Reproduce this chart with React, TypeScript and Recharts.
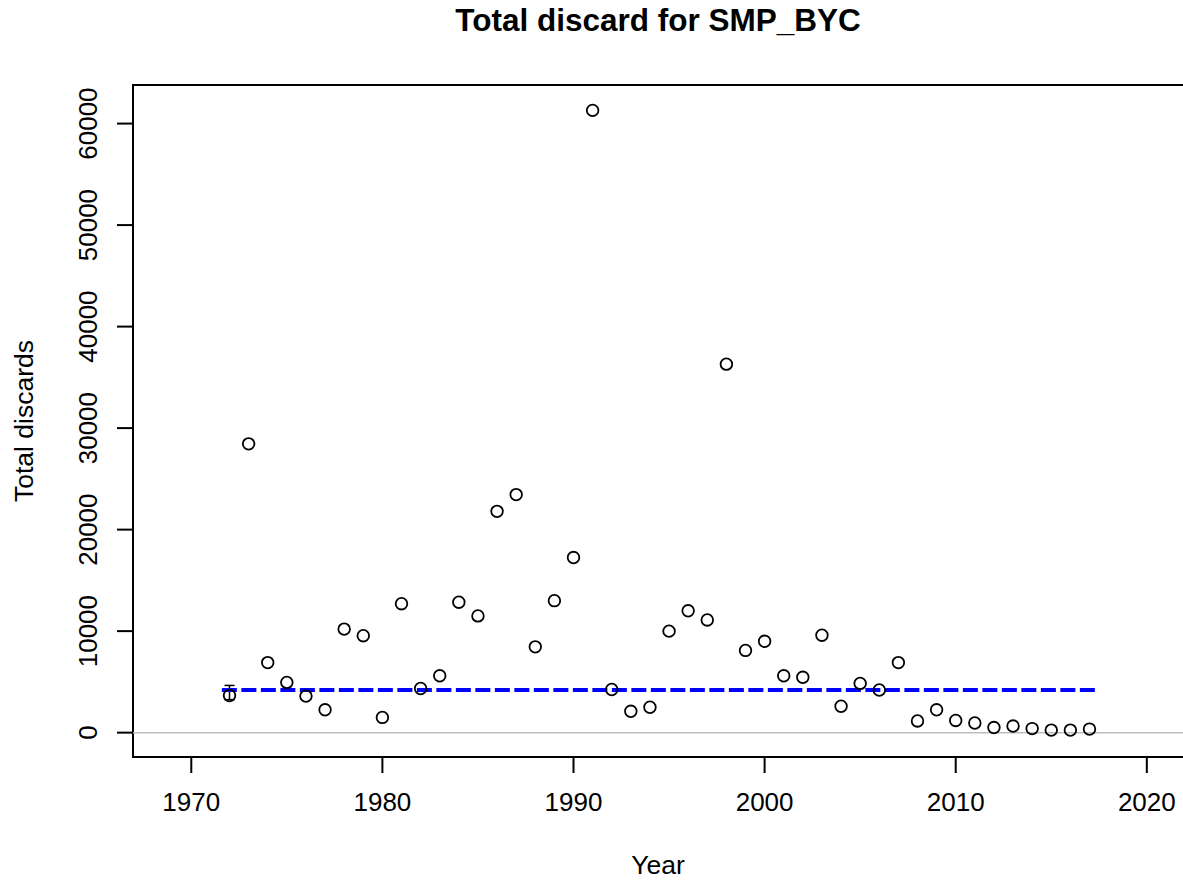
import React from 'react';
import {
  ScatterChart,
  Scatter,
  XAxis,
  YAxis,
  ErrorBar,
  ReferenceLine,
  ReferenceArea
} from 'recharts';

// discard estimates per year
const years = [
  1972, 1973, 1974, 1975, 1976, 1977, 1978, 1979, 1980, 1981,
  1982, 1983, 1984, 1985, 1986, 1987, 1988, 1989, 1990, 1991,
  1992, 1993, 1994, 1995, 1996, 1997, 1998, 1999, 2000, 2001,
  2002, 2003, 2004, 2005, 2006, 2007, 2008, 2009, 2010, 2011,
  2012, 2013, 2014, 2015, 2016, 2017
];
const discards = [
  3650, 28450, 6900, 4950, 3600, 2250, 10200, 9550, 1500, 12700,
  4350, 5600, 12850, 11500, 21800, 23450, 8450, 13000, 17250, 61300,
  4250, 2100, 2500, 10000, 12000, 11100, 36300, 8100, 9000, 5600,
  5450, 9600, 2600, 4850, 4200, 6900, 1150, 2250, 1200, 950,
  500, 650, 400, 250, 250, 350
];

// only the first year carries an interval
const errYear = 1972;
const errLowHigh = [400, 1000];

// mean discard, dashed blue
const meanYears = [1971.6, 2017.4];
const meanValue = 4200;

const xTicks = [1970, 1980, 1990, 2000, 2010, 2020];
const yTicks = [0, 10000, 20000, 30000, 40000, 50000, 60000];
const xDomain = [1966.95, 2022.05];
const yDomain = [-2400, 63800];

const FONT = '"Liberation Sans", Arial, sans-serif';
const TICK_SIZE = 26;
const LABEL_SIZE = 26.5;

const points = years.map((y, i) => ({ year: y, discard: discards[i] }));
const errPoint = [{ year: errYear, discard: discards[years.indexOf(errYear)], err: errLowHigh }];
const meanLine = meanYears.map(y => ({ year: y, discard: meanValue }));

const OpenCircle = (props: any) => (
  <circle cx={props.cx} cy={props.cy} r={5.8} fill="none" stroke="#000" strokeWidth={1.8} />
);

const XTick = ({ x, y, payload }: any) => (
  <text x={x} y={y} dy={TICK_SIZE * 0.716 + 19} textAnchor="middle" fontSize={TICK_SIZE} fontFamily={FONT} fill="#000">
    {payload.value}
  </text>
);

const YTick = ({ x, y, payload }: any) => (
  <text transform={`translate(${x - 20},${y}) rotate(-90)`} textAnchor="middle" fontSize={TICK_SIZE} fontFamily={FONT} fill="#000">
    {payload.value}
  </text>
);

const App: React.FC = () => {
  return (
    <div style={{ position: 'absolute', left: 0, top: 0, width: 1183, height: 884, overflow: 'hidden', background: '#fff' }}>
      <div
        style={{
          position: 'absolute',
          left: 133,
          top: 5,
          width: 1050,
          textAlign: 'center',
          fontFamily: FONT,
          fontWeight: 'bold',
          fontSize: 31.5,
          lineHeight: '31.5px'
        }}
      >
        Total discard for SMP_BYC
      </div>
      <ScatterChart width={1186} height={884} margin={{ top: 85, right: 0, bottom: 0, left: 0 }}>
        <XAxis
          type="number"
          dataKey="year"
          domain={xDomain}
          ticks={xTicks}
          allowDataOverflow
          height={127}
          axisLine={false}
          tickSize={16}
          tickMargin={0}
          tickLine={{ stroke: '#000', strokeWidth: 2 }}
          tick={<XTick />}
          label={{
            content: ({ viewBox }: any) => (
              <text x={viewBox.x + 525} y={874} textAnchor="middle" fontSize={LABEL_SIZE} fontFamily={FONT} fill="#000">
                Year
              </text>
            )
          }}
        />
        <YAxis
          type="number"
          dataKey="discard"
          domain={yDomain}
          ticks={yTicks}
          allowDataOverflow
          width={133}
          axisLine={false}
          tickSize={16}
          tickMargin={0}
          tickLine={{ stroke: '#000', strokeWidth: 2 }}
          tick={<YTick />}
          label={{
            content: ({ viewBox }: any) => (
              <text
                transform={`translate(33,${viewBox.y + viewBox.height / 2})rotate(-90)`}
                textAnchor="middle"
                fontSize={LABEL_SIZE}
                fontFamily={FONT}
                fill="#000"
              >
                Total discards
              </text>
            )
          }}
        />
        <ReferenceLine y={0} stroke="#bebebe" strokeWidth={1.5} />
        <ReferenceArea
          x1={xDomain[0]}
          x2={xDomain[1]}
          y1={yDomain[0]}
          y2={yDomain[1]}
          fill="none"
          fillOpacity={0}
          stroke="#000"
          strokeWidth={2}
          ifOverflow="visible"
        />
        <Scatter
          data={meanLine}
          line={{ stroke: '#0000ff', strokeWidth: 4, strokeDasharray: '15 4.5' }}
          shape={() => null}
          isAnimationActive={false}
        />
        <Scatter data={errPoint} shape={() => null} isAnimationActive={false}>
          <ErrorBar dataKey="err" direction="y" width={5} stroke="#000" strokeWidth={1.5} />
        </Scatter>
        <Scatter data={points} shape={<OpenCircle />} isAnimationActive={false} />
      </ScatterChart>
    </div>
  );
};

export default App;
